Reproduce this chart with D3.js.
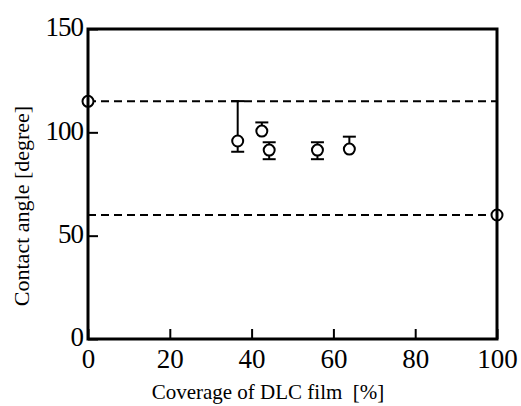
<!DOCTYPE html>
<html>
<head>
<meta charset="utf-8">
<script src="https://cdn.jsdelivr.net/npm/d3@7"></script>
<style>
  body { margin: 0; background: #fff; }
  svg text { font-family: "Liberation Serif", "Times New Roman", Times, "DejaVu Serif", serif; fill: #000; }
</style>
</head>
<body>
<svg width="521" height="406"></svg>
<script>
// data
const coverage = [0, 36.6, 42.5, 44.3, 56.1, 63.9, 100];
const angle = [115, 95.8, 100.6, 91.4, 91.4, 91.9, 60];
const errUpper = [null, 115.1, 104.8, 95.2, 95.2, 97.9, null];
const errLower = [null, 90.6, null, 87.0, 87.0, null, null];
const refLines = [115, 60];
const xTicks = [0, 20, 40, 60, 80, 100];
const yTicks = [0, 50, 100, 150];

const points = coverage.map((c, i) => ({ x: c, y: angle[i], hi: errUpper[i], lo: errLower[i] }));

const svg = d3.select("svg");
const plotLeft = 88, plotRight = 497, plotTop = 29, plotBottom = 339;
const serif = "Liberation Serif, Times New Roman, Times, DejaVu Serif, serif";

const xScale = d3.scaleLinear().domain([0, 100]).range([plotLeft, plotRight]);
const yScale = d3.scaleLinear().domain([0, 150]).range([plotBottom, plotTop]);

// dashed reference lines
svg.selectAll(".ref")
  .data(refLines)
  .join("line")
  .attr("class", "ref")
  .attr("x1", plotLeft).attr("x2", plotRight)
  .attr("y1", d => yScale(d)).attr("y2", d => yScale(d))
  .attr("stroke", "#000")
  .attr("stroke-width", 2)
  .attr("stroke-dasharray", "8,5");

// error bars
const capW = 6.5;
const eb = svg.append("g").attr("stroke", "#000").attr("stroke-width", 2);
points.forEach(p => {
  if (p.hi != null) {
    eb.append("line").attr("x1", xScale(p.x)).attr("x2", xScale(p.x))
      .attr("y1", yScale(p.y)).attr("y2", yScale(p.hi));
    eb.append("line").attr("x1", xScale(p.x) - capW).attr("x2", xScale(p.x) + capW)
      .attr("y1", yScale(p.hi)).attr("y2", yScale(p.hi));
  }
  if (p.lo != null) {
    eb.append("line").attr("x1", xScale(p.x)).attr("x2", xScale(p.x))
      .attr("y1", yScale(p.y)).attr("y2", yScale(p.lo));
    eb.append("line").attr("x1", xScale(p.x) - capW).attr("x2", xScale(p.x) + capW)
      .attr("y1", yScale(p.lo)).attr("y2", yScale(p.lo));
  }
});

// markers
svg.selectAll(".pt")
  .data(points)
  .join("circle")
  .attr("class", "pt")
  .attr("cx", d => xScale(d.x))
  .attr("cy", d => yScale(d.y))
  .attr("r", 5.5)
  .attr("fill", "#fff")
  .attr("stroke", "#000")
  .attr("stroke-width", 2);

// axes with inward ticks
const xAxis = svg.append("g")
  .attr("transform", "translate(0," + plotBottom + ")")
  .call(d3.axisBottom(xScale).tickValues(xTicks).tickSize(-10).tickPadding(10));
const yAxis = svg.append("g")
  .attr("transform", "translate(" + plotLeft + ",0)")
  .call(d3.axisLeft(yScale).tickValues(yTicks).tickSize(-10).tickPadding(5));

[xAxis, yAxis].forEach(a => {
  a.attr("font-family", serif).attr("font-size", 27);
  a.select(".domain").remove();
  a.selectAll(".tick line").attr("stroke", "#000").attr("stroke-width", 2);
  a.selectAll(".tick text").attr("fill", "#000");
});
xAxis.selectAll(".tick text").attr("dy", "0.71em");
yAxis.selectAll(".tick text").attr("dy", "0.25em").attr("letter-spacing", -1);

// frame
svg.append("rect")
  .attr("x", plotLeft).attr("y", plotTop)
  .attr("width", plotRight - plotLeft).attr("height", plotBottom - plotTop)
  .attr("fill", "none")
  .attr("stroke", "#000")
  .attr("stroke-width", 3);

// axis titles
svg.append("text")
  .attr("x", 268)
  .attr("y", 399)
  .attr("text-anchor", "middle")
  .attr("font-family", serif)
  .attr("font-size", 21)
  .attr("xml:space", "preserve")
  .text("Coverage of DLC film  [%]");

svg.append("text")
  .attr("transform", "translate(29,206) rotate(-90)")
  .attr("text-anchor", "middle")
  .attr("font-family", serif)
  .attr("font-size", 22)
  .text("Contact angle [degree]");
</script>
</body>
</html>
